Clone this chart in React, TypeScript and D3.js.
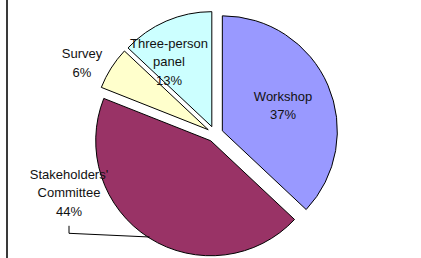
import { useEffect, useRef } from "react";
import * as d3 from "d3";

// slice data, clockwise from 12 o'clock
const categories = ["Workshop", "Stakeholders' Committee", "Survey", "Three-person panel"];
const shares = [37, 44, 6, 13];
const labelLines = [["Workshop"], ["Stakeholders'", "Committee"], ["Survey"], ["Three-person", "panel"]];
const colors = ["#9999FF", "#993366", "#FFFFCC", "#CCFFFF"];

const W = 421, H = 258;
const cx = 215, cy = 134, R = 115, explode = 8;
const lineH = 18.4;

// label block centres (first baseline), tuned by eye
const labelAnchor: Record<string, [number, number]> = {
  "Workshop": [283, 100.5],
  "Stakeholders' Committee": [69, 179],
  "Survey": [82, 58.3],
  "Three-person panel": [169, 47.7],
};

export default function App() {
  const svgRef = useRef<SVGSVGElement>(null);

  useEffect(() => {
    const svg = d3.select(svgRef.current);
    svg.selectAll("*").remove();

    svg.append("rect").attr("width", W).attr("height", H).attr("fill", "#fff");
    svg.append("line").attr("x1", 7).attr("x2", 7).attr("y1", 0).attr("y2", H)
      .attr("stroke", "#3a3a3a").attr("stroke-width", 2);

    const data = categories.map((c, i) => ({ name: c, value: shares[i], lines: labelLines[i], color: colors[i] }));
    const pie = d3.pie<any>().value((d) => d.value).sort(null);
    const arcs = pie(data);
    const arc = d3.arc<any>().innerRadius(0).outerRadius(R);

    const g = svg.append("g").attr("transform", `translate(${cx},${cy})`);

    arcs.forEach((a) => {
      const mid = (a.startAngle + a.endAngle) / 2;
      const dx = Math.sin(mid) * explode, dy = -Math.cos(mid) * explode;
      g.append("path")
        .attr("d", arc(a) as string)
        .attr("transform", `translate(${dx},${dy})`)
        .attr("fill", a.data.color)
        .attr("stroke", "#000")
        .attr("stroke-width", 1)
        .attr("stroke-linejoin", "round");
    });

    // leader line for the stakeholders label
    const sh = arcs[1];
    const shMid = (sh.startAngle + sh.endAngle) / 2;
    const ex = cx + Math.sin(shMid) * (explode + R - 1);
    const ey = cy - Math.cos(shMid) * (explode + R - 1);
    const [lx, ly] = labelAnchor[sh.data.name];
    const lyTop = ly + lineH * 2 + 10;
    svg.append("path")
      .attr("d", `M${lx},${lyTop} L${lx},${lyTop + 7.5} L${ex},${ey}`)
      .attr("fill", "none").attr("stroke", "#000").attr("stroke-width", 1);

    arcs.forEach((a) => {
      const [x, y] = labelAnchor[a.data.name];
      const t = svg.append("text")
        .attr("text-anchor", "middle")
        .attr("font-family", "Liberation Sans, Arial, sans-serif")
        .attr("font-size", 13)
        .attr("fill", "#111");
      const rows = [...a.data.lines, `${a.data.value}%`];
      rows.forEach((row: string, i: number) => {
        t.append("tspan").attr("x", x).attr("y", y + i * lineH).text(row);
      });
    });
  }, []);

  return (
    <svg ref={svgRef} width={W} height={H}
      style={{ position: "absolute", left: 0, top: 0, display: "block" }} />
  );
}
